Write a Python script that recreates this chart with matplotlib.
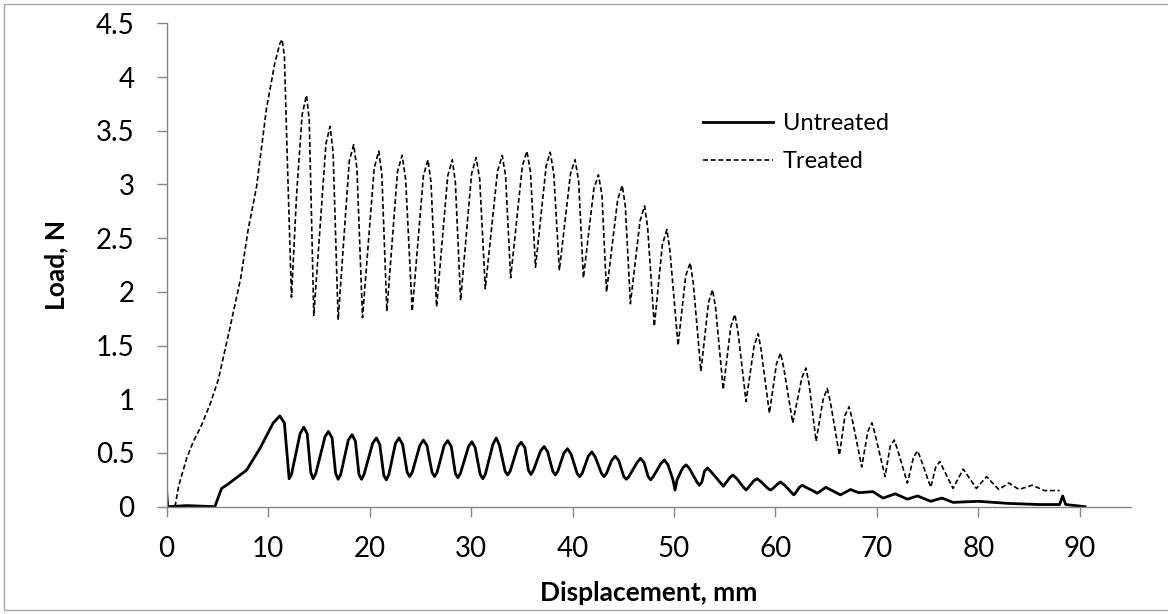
import matplotlib
matplotlib.use("Agg")
import matplotlib.pyplot as plt
from matplotlib.patches import Rectangle

plt.rcParams['font.family'] = ['Lato', 'DejaVu Sans']

# displacement (mm) / load (N)
untreated_x = [0, 0.1, 2.0, 4.75, 5.41, 5.9, 7.87, 9.18, 10.5, 11.15, 11.6, 12.07,
               12.3, 13.15, 13.51, 13.85, 14.2, 14.43, 14.7,
               15.6, 15.94, 16.3, 16.65, 16.9, 17.15,
               17.9, 18.27, 18.6, 18.95, 19.2, 19.45,
               20.3, 20.67, 21.0, 21.4, 21.65, 21.9,
               22.55, 22.9, 23.25, 23.7, 23.95, 24.2,
               24.95, 25.3, 25.65, 26.15, 26.4, 26.65,
               27.35, 27.7, 28.05, 28.45, 28.7, 28.95,
               29.75, 30.08, 30.4, 30.9, 31.16, 31.4,
               32.15, 32.48, 32.8, 33.35, 33.6, 33.85,
               34.6, 34.94, 35.3, 35.65, 35.9, 36.15,
               36.85, 37.2, 37.55, 38.05, 38.3, 38.55,
               39.15, 39.5, 39.85, 40.45, 40.7, 40.95,
               41.55, 41.9, 42.25, 42.85, 43.1, 43.35,
               43.85, 44.2, 44.55, 45.05, 45.3, 45.55,
               46.35, 46.7, 47.05, 47.45, 47.7, 47.95,
               48.7, 49.05, 49.4, 49.9, 50.1, 50.3,
               50.85, 51.2, 51.55, 52.25, 52.5, 52.75,
               53.0, 53.3, 53.7, 54.6, 54.85, 55.1,
               55.5, 55.8, 56.2, 56.85, 57.1, 57.35,
               57.85, 58.2, 58.6, 59.25, 59.5, 59.75,
               60.2, 60.5, 60.9, 61.6, 61.8, 62.0,
               62.35, 62.65, 63.0, 63.85, 64.1, 64.35,
               64.96, 66.4, 67.4, 68.2, 69.6, 70.6, 71.8, 73.0, 74.0, 75.3,
               76.4, 77.5, 80.0, 83.0, 86.0, 88.0, 88.3, 88.6, 90.5]
untreated_y = [0.14, 0.0, 0.01, 0.0, 0.17, 0.2, 0.34, 0.54, 0.78, 0.845, 0.78, 0.26,
               0.30, 0.68, 0.74, 0.68, 0.32, 0.26, 0.31,
               0.65, 0.70, 0.64, 0.31, 0.255, 0.30,
               0.62, 0.67, 0.61, 0.30, 0.255, 0.30,
               0.59, 0.64, 0.58, 0.29, 0.25, 0.30,
               0.59, 0.64, 0.58, 0.32, 0.28, 0.32,
               0.57, 0.62, 0.57, 0.32, 0.28, 0.32,
               0.57, 0.615, 0.56, 0.31, 0.27, 0.31,
               0.56, 0.605, 0.55, 0.30, 0.26, 0.30,
               0.58, 0.64, 0.57, 0.33, 0.295, 0.33,
               0.56, 0.60, 0.55, 0.34, 0.30, 0.34,
               0.52, 0.56, 0.51, 0.33, 0.295, 0.33,
               0.50, 0.54, 0.49, 0.31, 0.28, 0.31,
               0.47, 0.51, 0.46, 0.31, 0.28, 0.31,
               0.43, 0.47, 0.43, 0.28, 0.255, 0.28,
               0.41, 0.45, 0.41, 0.28, 0.25, 0.28,
               0.40, 0.435, 0.39, 0.25, 0.155, 0.25,
               0.36, 0.39, 0.35, 0.23, 0.20, 0.23,
               0.33, 0.36, 0.32, 0.22, 0.19, 0.22,
               0.27, 0.295, 0.26, 0.18, 0.155, 0.18,
               0.24, 0.26, 0.23, 0.17, 0.155, 0.17,
               0.21, 0.23, 0.20, 0.13, 0.11, 0.13,
               0.18, 0.20, 0.18, 0.14, 0.125, 0.14,
               0.18, 0.11, 0.16, 0.13, 0.14, 0.08, 0.12, 0.07, 0.10, 0.05,
               0.08, 0.04, 0.05, 0.03, 0.02, 0.02, 0.10, 0.02, 0.0]

treated_x = [0.82, 1.2, 1.97, 2.6, 3.44, 4.26, 5.08, 6.2, 7.3, 8.03, 8.86, 9.84,
             10.66, 11.15, 11.38, 11.6, 11.9, 12.3,
             12.8, 13.35, 13.78, 14.05, 14.5,
             15.7, 16.1, 16.4, 16.9,
             18.0, 18.43, 18.75, 19.3,
             20.45, 20.9, 21.2, 21.7,
             22.75, 23.2, 23.55, 24.2,
             25.3, 25.75, 26.05, 26.6,
             27.7, 28.15, 28.45, 28.97,
             30.05, 30.5, 30.85, 31.4,
             32.6, 33.07, 33.4, 33.9,
             35.05, 35.5, 35.85, 36.35,
             37.4, 37.8, 38.15, 38.7,
             39.8, 40.25, 40.6, 41.07,
             42.1, 42.55, 42.9, 43.35,
             44.45, 44.9, 45.2, 45.7,
             46.65, 47.1, 47.4, 48.06,
             48.85, 49.3, 49.6, 50.4,
             51.15, 51.6, 51.9, 52.65,
             53.4, 53.8, 54.1, 54.85,
             55.6, 56.0, 56.3, 57.1,
             57.9, 58.3, 58.6, 59.4,
             60.1, 60.5, 60.8, 61.7,
             62.6, 63.0, 63.3, 64.0,
             64.7, 65.1, 65.4, 66.3,
             66.85, 67.25, 67.55, 68.5,
             69.1, 69.5, 69.8, 70.8,
             71.3, 71.7, 72.0, 73.0,
             73.6, 74.0, 74.3, 75.3,
             75.8, 76.2, 76.5, 77.5,
             78.5, 79.8, 80.8, 82.0, 83.0, 84.0, 85.3, 86.5, 88.0]
treated_y = [0.0, 0.2, 0.45, 0.6, 0.76, 0.95, 1.18, 1.65, 2.13, 2.58, 2.98, 3.71,
             4.13, 4.31, 4.35, 4.2, 3.2, 1.95,
             2.9, 3.65, 3.83, 3.6, 1.78,
             3.38, 3.54, 3.3, 1.74,
             3.22, 3.37, 3.15, 1.76,
             3.15, 3.31, 3.10, 1.82,
             3.12, 3.27, 3.05, 1.82,
             3.08, 3.23, 3.02, 1.86,
             3.08, 3.23, 3.02, 1.92,
             3.10, 3.25, 3.05, 2.03,
             3.12, 3.27, 3.08, 2.13,
             3.17, 3.31, 3.12, 2.23,
             3.17, 3.30, 3.10, 2.20,
             3.10, 3.23, 3.03, 2.13,
             2.96, 3.09, 2.90, 2.00,
             2.86, 2.99, 2.80, 1.89,
             2.66, 2.80, 2.60, 1.68,
             2.44, 2.58, 2.38, 1.50,
             2.15, 2.27, 2.08, 1.26,
             1.90, 2.02, 1.85, 1.09,
             1.68, 1.79, 1.63, 0.98,
             1.50, 1.61, 1.45, 0.87,
             1.33, 1.43, 1.30, 0.78,
             1.20, 1.29, 1.15, 0.61,
             1.00, 1.10, 0.98, 0.48,
             0.85, 0.93, 0.82, 0.37,
             0.70, 0.78, 0.68, 0.28,
             0.56, 0.62, 0.54, 0.22,
             0.46, 0.52, 0.45, 0.18,
             0.37, 0.42, 0.36, 0.17,
             0.35, 0.17, 0.28, 0.16, 0.22, 0.16, 0.20, 0.15, 0.15]

x_ticks = [0, 10, 20, 30, 40, 50, 60, 70, 80, 90]
y_ticks = [0, 0.5, 1, 1.5, 2, 2.5, 3, 3.5, 4, 4.5]
y_labels = ['0', '0.5', '1', '1.5', '2', '2.5', '3', '3.5', '4', '4.5']

fig = plt.figure(figsize=(11.68, 6.14), dpi=100)
ax = fig.add_axes([0.1427, 0.1748, 0.8253, 0.7872])

# excel-ish chart border
fig.patches.append(Rectangle((4 / 1168, 4 / 614), 1.0, 1 - 8 / 614,
                             transform=fig.transFigure, fill=False,
                             edgecolor='#a6a6a6', linewidth=1.0))

ax.plot(untreated_x, untreated_y, color='black', linewidth=2.0, label='Untreated')
ax.plot(treated_x, treated_y, color='black', linewidth=1.2,
        linestyle=(0, (3, 1.6)), label='Treated')

ax.set_xlim(0, 95)
ax.set_ylim(0, 4.5)
ax.set_xticks(x_ticks)
ax.set_yticks(y_ticks)
ax.set_yticklabels(y_labels)

for s in ['top', 'right']:
    ax.spines[s].set_visible(False)
for s in ['left', 'bottom']:
    ax.spines[s].set_color('#868686')
    ax.spines[s].set_linewidth(1.0)
ax.tick_params(direction='out', length=7, width=1.0, color='#868686',
               labelsize=20, pad=14)
ax.tick_params(axis='y', pad=16)

ax.set_xlabel('Displacement, mm', fontsize=19, fontweight='bold', labelpad=14)
ax.set_ylabel('Load, N', fontsize=19, fontweight='bold', labelpad=20)

ax.legend(loc='upper left', bbox_to_anchor=(0.556, 0.814), frameon=False,
          fontsize=17, handlelength=3.0, handletextpad=0.4, labelspacing=0.72,
          borderpad=0, borderaxespad=0)

fig.savefig('out.png', dpi=100)
